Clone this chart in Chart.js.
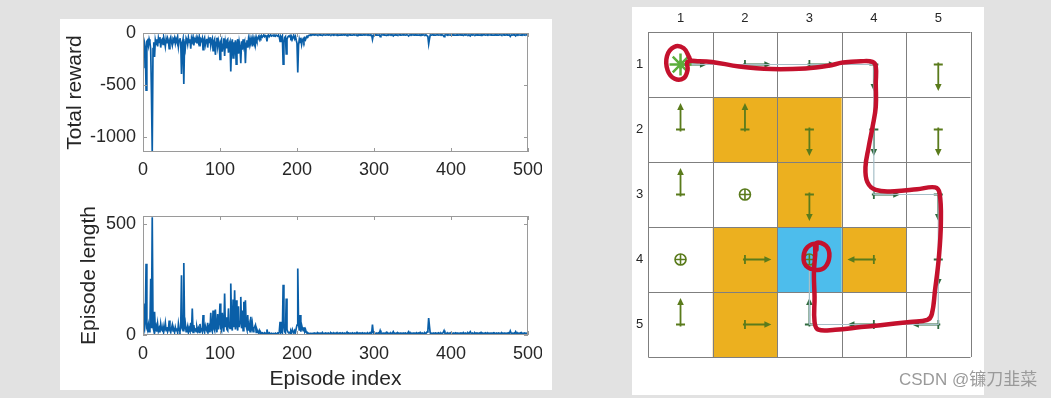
<!DOCTYPE html>
<html>
<head>
<meta charset="utf-8">
<script src="https://cdn.jsdelivr.net/npm/chart.js@4.4.1/dist/chart.umd.min.js"></script>
<style>
  html, body { margin: 0; padding: 0; }
  body { width: 1051px; height: 398px; background: #e2e2e2; position: relative; overflow: hidden; }
  .panel { position: absolute; background: #fff; }
  canvas { position: absolute; }
  #mark { position: absolute; left: 899px; top: 370px; line-height: 20px; font-size: 17px; color: #9a9a9a;
          font-family: "Liberation Sans", "Noto Sans CJK SC", sans-serif; white-space: nowrap; }
</style>
</head>
<body>
<div class="panel" style="left:60px;top:19px;width:492px;height:371px"></div>
<div class="panel" style="left:632px;top:7px;width:352px;height:388px"></div>
<canvas id="rewardChart" width="480" height="180" style="left:62px;top:19px"></canvas>
<canvas id="lengthChart" width="480" height="190" style="left:62px;top:200px"></canvas>
<canvas id="gridChart" width="352" height="388" style="left:632px;top:7px"></canvas>
<div id="mark">CSDN @镰刀韭菜</div>
<script>
// ---- left: training curves (one value per episode, 0..500) ----
const totalReward = [
  -330, -60, -90, -140, -550, -80, -70, -120, -60, -90,
  -160, -590, -1145, -150, -90, -230, -70, -110, -60, -130,
  -50, -90, -40, -140, -70, -60, -110, -45, -80, -130,
  -60, -100, -50, -75, -150, -60, -40, -90, -120, -55,
  -70, -45, -100, -60, -85, -40, -130, -70, -50, -90,
  -395, -100, -60, -490, -80, -140, -50, -70, -110, -45,
  -90, -60, -150, -50, -80, -40, -120, -60, -75, -45,
  -100, -55, -90, -40, -130, -60, -75, -50, -160, -65,
  -45, -110, -70, -55, -140, -60, -90, -40, -120, -70,
  -50, -170, -80, -60, -210, -90, -45, -130, -70, -100,
  -255, -80, -60, -180, -110, -50, -220, -90, -140, -70,
  -60, -190, -100, -80, -370, -120, -60, -240, -90, -150,
  -70, -300, -110, -60, -200, -90, -140, -290, -80, -160,
  -60, -120, -90, -290, -100, -70, -140, -60, -110, -50,
  -90, -60, -130, -45, -80, -55, -110, -40, -70, -50,
  -35, -60, -30, -45, -25, -40, -30, -20, -35, -25,
  -30, -80, -25, -20, -35, -25, -20, -30, -25, -20,
  -25, -20, -30, -20, -25, -30, -20, -40, -80, -35,
  -50, -30, -300, -90, -45, -35, -200, -60, -40, -30,
  -35, -25, -45, -30, -60, -40, -30, -55, -35, -70,
  -100, -380, -120, -60, -90, -45, -110, -70, -55, -80,
  -50, -65, -40, -30, -35, -25, -20, -22, -18, -20,
  -17, -19, -18, -20, -17, -19, -18, -21, -19, -17, -20, -18, -19, -24, -18, -17, -19, -20, -18, -19,
  -18, -20, -17, -19, -21, -18, -19, -17, -20, -18, -19, -18, -23, -17, -19, -20, -18, -19, -17, -21,
  -19, -18, -20, -17, -19, -26, -18, -19, -17, -20, -18, -19, -21, -18, -17, -20, -19, -18, -25, -19,
  -18, -20, -17, -19, -18, -21, -19, -17, -20, -18, -19, -18, -20, -17, -19, -23, -18, -20, -62, -24,
  -18, -19, -17, -20, -18, -19, -21, -19, -34, -20, -18, -19, -17, -20, -18, -19, -24, -18, -20, -17,
  -19, -18, -20, -17, -19, -28, -18, -19, -17, -20, -18, -21, -19, -17, -20, -18, -19, -18, -20, -17,
  -19, -20, -18, -17, -21, -28, -19, -18, -20, -17, -19, -18, -20, -19, -17, -21, -18, -19, -20, -18,
  -24, -19, -17, -20, -18, -19, -21, -18, -20, -27, -36, -105, -58, -20, -18, -19, -17, -20, -18, -19,
  -20, -18, -19, -17, -21, -19, -18, -20, -17, -19, -24, -34, -20, -18, -19, -17, -20, -18, -19, -21,
  -18, -19, -17, -20, -18, -19, -21, -18, -20, -17, -19, -18, -20, -17, -19, -18, -23, -19, -17, -20,
  -18, -19, -21, -18, -20, -28, -19, -17, -20, -18, -19, -21, -18, -20, -17, -19, -18, -20, -19, -24,
  -18, -20, -17, -19, -18, -21, -19, -17, -20, -18, -19, -18, -20, -17, -19, -21, -18, -19, -17, -20,
  -18, -19, -20, -17, -19, -18, -21, -19, -17, -20, -18, -19, -17, -20, -18, -21, -19, -32, -20, -18,
  -19, -17, -20, -18, -28, -19, -17, -20, -18, -19, -21, -18, -20, -17, -19, -18, -20, -19, -17, -20,
  -19
];
const episodeLength = [
  142, 40, 25, 60, 322, 30, 20, 45, 15, 35,
  254, 30, 531, 35, 20, 105, 25, 40, 15, 50,
  18, 30, 12, 50, 25, 20, 40, 15, 30, 55,
  20, 35, 15, 25, 65, 20, 12, 30, 45, 18,
  25, 12, 35, 20, 30, 10, 50, 25, 15, 30,
  270, 35, 20, 325, 25, 50, 15, 25, 40, 12,
  30, 20, 55, 15, 120, 12, 45, 20, 25, 15,
  35, 18, 30, 12, 50, 20, 25, 15, 90, 22,
  12, 40, 25, 18, 55, 20, 35, 12, 100, 25,
  15, 110, 30, 20, 115, 35, 12, 95, 25, 60,
  142, 30, 20, 100, 45, 15, 187, 35, 80, 25,
  20, 120, 40, 30, 232, 50, 20, 160, 35, 202,
  25, 157, 45, 20, 130, 35, 60, 172, 30, 110,
  20, 150, 35, 157, 40, 25, 90, 20, 45, 15,
  82, 20, 50, 15, 30, 37, 45, 12, 25, 15,
  10, 20, 8, 12, 6, 10, 8, 5, 10, 7,
  8, 25, 7, 5, 10, 7, 5, 8, 6, 5,
  6, 5, 8, 5, 6, 9, 5, 15, 60, 12,
  20, 10, 227, 40, 15, 10, 165, 25, 15, 10,
  12, 8, 18, 10, 25, 15, 10, 20, 12, 30,
  45, 300, 50, 20, 90, 15, 45, 30, 20, 35,
  15, 25, 12, 8, 10, 7, 6, 8, 5, 7,
  6, 8, 7, 9, 6, 8, 7, 10, 8, 6, 9, 7, 8, 12, 7, 6, 8, 9, 7, 8,
  7, 9, 6, 8, 10, 7, 8, 6, 9, 7, 8, 7, 11, 6, 8, 9, 7, 8, 6, 10,
  8, 7, 9, 6, 8, 13, 7, 8, 6, 9, 7, 8, 10, 7, 6, 9, 8, 7, 12, 8,
  7, 9, 6, 8, 7, 10, 8, 6, 9, 7, 8, 7, 9, 6, 8, 11, 7, 9, 47, 12,
  7, 8, 6, 9, 7, 8, 10, 8, 20, 9, 7, 8, 6, 9, 7, 8, 12, 7, 9, 6,
  8, 7, 9, 6, 8, 15, 7, 8, 6, 9, 7, 10, 8, 6, 9, 7, 8, 7, 9, 6,
  8, 9, 7, 6, 10, 15, 8, 7, 9, 6, 8, 7, 9, 8, 6, 10, 7, 8, 9, 7,
  12, 8, 6, 9, 7, 8, 10, 7, 9, 14, 22, 76, 40, 9, 7, 8, 6, 9, 7, 8,
  9, 7, 8, 6, 10, 8, 7, 9, 6, 8, 12, 20, 9, 7, 8, 6, 9, 7, 8, 10,
  7, 8, 6, 9, 7, 8, 10, 7, 9, 6, 8, 7, 9, 6, 8, 7, 11, 8, 6, 9,
  7, 8, 10, 7, 9, 15, 8, 6, 9, 7, 8, 10, 7, 9, 6, 8, 7, 9, 8, 12,
  7, 9, 6, 8, 7, 10, 8, 6, 9, 7, 8, 7, 9, 6, 8, 10, 7, 8, 6, 9,
  7, 8, 9, 6, 8, 7, 10, 8, 6, 9, 7, 8, 6, 9, 7, 10, 8, 18, 9, 7,
  8, 6, 9, 7, 15, 8, 6, 9, 7, 8, 10, 7, 9, 6, 8, 7, 9, 8, 6, 9,
  8
];
const episodes = totalReward.map((_, i) => i);
const episodeTicks = [0, 100, 200, 300, 400, 500];
const rewardTicks = [-1000, -500, 0];
const lengthTicks = [0, 500];

// ---- right: grid world, cells are [row, col] ----
const gridTicks = [1, 2, 3, 4, 5];
const forbiddenCells = [[2, 2], [2, 3], [3, 3], [4, 2], [4, 4], [5, 2]];
const targetCell = [4, 3];
const startCell = [1, 1];
// r/l/u/d = move, s = stay
const policy = [
  ['r', 'r', 'r', 'd', 'd'],
  ['u', 'u', 'd', 'd', 'd'],
  ['u', 's', 'd', 'r', 'd'],
  ['s', 'r', 's', 'l', 'd'],
  ['u', 'r', 'u', 'l', 'l']
];
const trajectory = [[1, 1], [1, 2], [1, 3], [1, 4], [2, 4], [3, 4], [3, 5], [4, 5], [5, 5], [5, 4], [5, 3], [4, 3]];
// hand drawn red stroke, [col, row]
const redPath = [
  [1.14, 0.90], [1.05, 0.75], [0.90, 0.73], [0.79, 0.87], [0.80, 1.09], [0.91, 1.22], [1.05, 1.21], [1.11, 1.08],
  [1.11, 0.96], [1.29, 0.95], [1.49, 0.96], [1.91, 1.03], [2.41, 1.07], [2.94, 1.06], [3.29, 1.02], [3.52, 0.97],
  [3.80, 0.95], [3.98, 0.96], [4.03, 1.03], [4.03, 1.29], [4.03, 1.65], [3.98, 1.96], [3.92, 2.27], [3.87, 2.58],
  [3.90, 2.81], [4.03, 2.93], [4.32, 2.95], [4.67, 2.92], [4.95, 2.89], [5.02, 2.98], [5.04, 3.44], [5.01, 3.96],
  [4.95, 4.47], [4.90, 4.84], [4.83, 4.93], [4.56, 4.96], [4.10, 5.01], [3.80, 5.04], [3.40, 5.08], [3.14, 5.08],
  [3.08, 4.96], [3.08, 4.58], [3.07, 4.21], [3.09, 3.93], [3.11, 3.75], [3.26, 3.79], [3.31, 3.95], [3.24, 4.12],
  [3.11, 4.16], [2.95, 4.10], [2.91, 3.95], [2.97, 3.81], [3.10, 3.76], [3.11, 3.85]
];

const TXT = '#262626';
const FONT = 'Liberation Sans';

const matlabBox = {
  id: 'matlabBox',
  afterDatasetsDraw(chart) {
    const { ctx, chartArea: a, scales } = chart;
    ctx.save();
    ctx.strokeStyle = '#9a9a9a';
    ctx.lineWidth = 1;
    ctx.strokeRect(a.left + 0.5, a.top + 0.5, a.width - 1, a.height - 1);
    ctx.beginPath();
    scales.x.ticks.forEach(t => {
      const px = Math.round(scales.x.getPixelForValue(t.value)) + 0.5;
      ctx.moveTo(px, a.bottom); ctx.lineTo(px, a.bottom - 4);
      ctx.moveTo(px, a.top); ctx.lineTo(px, a.top + 4);
    });
    scales.y.ticks.forEach(t => {
      const py = Math.round(scales.y.getPixelForValue(t.value)) + 0.5;
      ctx.moveTo(a.left, py); ctx.lineTo(a.left + 4, py);
      ctx.moveTo(a.right, py); ctx.lineTo(a.right - 4, py);
    });
    ctx.stroke();
    ctx.restore();
  }
};

function curveChart(id, values, yMin, yMax, yTicks, yTitle, yTitlePad, xTitle, padTop, xHeight, xTickPad) {
  return new Chart(document.getElementById(id), {
    type: 'line',
    data: {
      labels: episodes,
      datasets: [{
        data: values,
        borderColor: '#0a5fa8',
        borderWidth: 1.7,
        pointRadius: 0,
        fill: false,
        tension: 0
      }]
    },
    options: {
      responsive: false,
      animation: false,
      events: [],
      layout: { padding: { top: padTop, right: 14, left: 0, bottom: 0 } },
      plugins: { legend: { display: false }, tooltip: { enabled: false } },
      scales: {
        x: {
          type: 'linear', min: 0, max: 500,
          afterBuildTicks: s => { s.ticks = episodeTicks.map(v => ({ value: v })); },
          afterFit: s => { s.height = xHeight; s.paddingLeft = 0; s.paddingRight = 0; },
          grid: { display: false, drawTicks: false },
          border: { display: false },
          ticks: { color: TXT, font: { family: FONT, size: 18 }, padding: xTickPad, maxRotation: 0, autoSkip: false, callback: v => String(v) },
          title: { display: !!xTitle, text: xTitle, color: TXT, font: { family: FONT, size: 21, lineHeight: 1 }, padding: { top: 0, bottom: 0.5 } }
        },
        y: {
          min: yMin, max: yMax,
          afterBuildTicks: s => { s.ticks = yTicks.map(v => ({ value: v })); },
          afterFit: s => { s.width = 81; s.paddingTop = 0; s.paddingBottom = 0; },
          grid: { display: false, drawTicks: false },
          border: { display: false },
          ticks: { color: TXT, font: { family: FONT, size: 18 }, padding: 7, callback: v => String(v) },
          title: { display: true, text: yTitle, color: TXT, font: { family: FONT, size: 21, lineHeight: 1 }, padding: { top: yTitlePad, bottom: 0 } }
        }
      }
    },
    plugins: [matlabBox]
  });
}

curveChart('rewardChart', totalReward, -1145, 0, rewardTicks, 'Total reward', 3, '', 14, 47, 7);
curveChart('lengthChart', episodeLength, 0, 537, lengthTicks, 'Episode length', 17, 'Episode index', 16, 55, 8);

// ---- grid world ----
function drawArrow(ctx, cx, cy, dir, color, len) {
  const d = { r: [1, 0], l: [-1, 0], u: [0, -1], d: [0, 1] }[dir];
  const p = [-d[1], d[0]];
  const tx = cx + d[0] * len, ty = cy + d[1] * len;
  ctx.strokeStyle = color;
  ctx.fillStyle = color;
  ctx.lineWidth = 1.8;
  ctx.beginPath();
  ctx.moveTo(cx - d[0] * 2, cy - d[1] * 2);
  ctx.lineTo(tx - d[0] * 5, ty - d[1] * 5);
  ctx.moveTo(cx - p[0] * 4.5, cy - p[1] * 4.5);
  ctx.lineTo(cx + p[0] * 4.5, cy + p[1] * 4.5);
  ctx.stroke();
  ctx.beginPath();
  ctx.moveTo(tx, ty);
  ctx.lineTo(tx - d[0] * 7 + p[0] * 3.3, ty - d[1] * 7 + p[1] * 3.3);
  ctx.lineTo(tx - d[0] * 7 - p[0] * 3.3, ty - d[1] * 7 - p[1] * 3.3);
  ctx.closePath();
  ctx.fill();
}

const gridWorld = {
  id: 'gridWorld',
  beforeDatasetsDraw(chart) {
    const { ctx, scales: { x, y } } = chart;
    const px = c => x.getPixelForValue(c);
    const py = r => y.getPixelForValue(r);
    ctx.save();
    const fillCell = ([r, c], color) => {
      const x0 = px(c - 0.5), x1 = px(c + 0.5), y0 = py(r - 0.5), y1 = py(r + 0.5);
      ctx.fillStyle = color;
      ctx.fillRect(x0, y0, x1 - x0, y1 - y0);
    };
    forbiddenCells.forEach(cell => fillCell(cell, '#ecb01f'));
    fillCell(targetCell, '#4dbdec');

    ctx.strokeStyle = '#7f7f7f';
    ctx.lineWidth = 1;
    ctx.beginPath();
    for (let k = 0.5; k <= 5.5; k++) {
      const gx = Math.round(px(k)) + 0.5, gy = Math.round(py(k)) + 0.5;
      ctx.moveTo(gx, py(0.5)); ctx.lineTo(gx, py(5.5));
      ctx.moveTo(px(0.5), gy); ctx.lineTo(px(5.5), gy);
    }
    ctx.stroke();

    const cell = px(2) - px(1);
    policy.forEach((acts, ri) => acts.forEach((a, ci) => {
      if (a === 's') return;
      const r = ri + 1, c = ci + 1;
      const onPath = trajectory.some(([tr, tc]) => tr === r && tc === c);
      drawArrow(ctx, px(c), py(r), a, onPath ? '#2f6a3e' : '#5a7b1c', cell * 0.41);
    }));
    ctx.restore();
  }
};

const stayCells = [];
policy.forEach((acts, ri) => acts.forEach((a, ci) => { if (a === 's') stayCells.push({ x: ci + 1, y: ri + 1 }); }));

new Chart(document.getElementById('gridChart'), {
  type: 'scatter',
  data: {
    datasets: [
      {
        data: redPath.map(([c, r]) => ({ x: c, y: r })),
        showLine: true, tension: 0.4, borderColor: '#c4112d', borderWidth: 4.5,
        borderCapStyle: 'round', borderJoinStyle: 'round', pointRadius: 0, clip: false, order: 0
      },
      {
        data: [{ x: startCell[1], y: startCell[0] }],
        pointStyle: 'star', pointRadius: 11, borderColor: '#5cae3c', borderWidth: 2.5, backgroundColor: 'transparent', order: 1
      },
      {
        data: stayCells,
        pointStyle: 'circle', pointRadius: 5.5, borderColor: '#5a7b1c', borderWidth: 1.6, backgroundColor: 'transparent', order: 2
      },
      {
        data: stayCells,
        pointStyle: 'cross', pointRadius: 5.5, borderColor: '#5a7b1c', borderWidth: 1.6, order: 3
      },
      {
        data: trajectory.map(([r, c]) => ({ x: c, y: r })),
        showLine: true, borderColor: '#a6bfc8', borderWidth: 1.2, pointRadius: 0, order: 5
      }
    ]
  },
  options: {
    responsive: false,
    animation: false,
    events: [],
    layout: { padding: { top: 0, right: 10, bottom: 38, left: 0 } },
    plugins: { legend: { display: false }, tooltip: { enabled: false } },
    scales: {
      x: {
        type: 'linear', position: 'top', min: 0.5, max: 5.5,
        afterBuildTicks: s => { s.ticks = gridTicks.map(v => ({ value: v })); },
        afterFit: s => { s.height = 25; s.paddingLeft = 0; s.paddingRight = 0; },
        grid: { display: false, drawTicks: false },
        border: { display: false },
        ticks: { color: TXT, font: { family: FONT, size: 13 }, padding: 6 }
      },
      y: {
        type: 'linear', reverse: true, min: 0.5, max: 5.5,
        afterBuildTicks: s => { s.ticks = gridTicks.map(v => ({ value: v })); },
        afterFit: s => { s.width = 16.3; s.paddingTop = 0; s.paddingBottom = 0; },
        grid: { display: false, drawTicks: false },
        border: { display: false },
        ticks: { color: TXT, font: { family: FONT, size: 13 }, padding: 5 }
      }
    }
  },
  plugins: [gridWorld]
});
</script>
</body>
</html>
